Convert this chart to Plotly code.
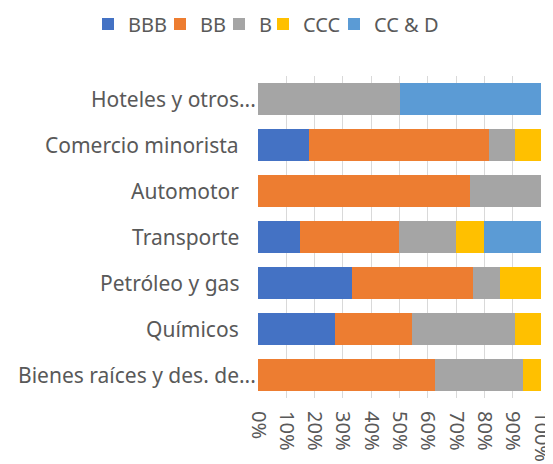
import plotly.graph_objects as go

categories = ["Hoteles y otros...", "Comercio minorista", "Automotor", "Transporte",
              "Petróleo y gas", "Químicos", "Bienes raíces y des. de..."]
series_names = ["BBB", "BB", "B", "CCC", "CC & D"]
bbb = [0, 18.0, 0, 14.8, 33.2, 27.2, 0]
bb = [0, 63.8, 74.8, 35.1, 42.9, 27.1, 62.5]
b = [50.0, 9.0, 25.2, 20.0, 9.5, 36.5, 31.1]
ccc = [0, 9.2, 0, 10.1, 14.4, 9.2, 6.4]
ccd = [50.0, 0, 0, 20.0, 0, 0, 0]
colors = ["#4472C4", "#ED7D31", "#A5A5A5", "#FFC000", "#5B9BD5"]
tick_vals = [0, 10, 20, 30, 40, 50, 60, 70, 80, 90, 100]
tick_text = ["0%", "10%", "20%", "30%", "40%", "50%", "60%", "70%", "80%", "90%", "100%"]

FONT = "Noto Sans"
GREY = "#595959"
LINE = "#D9D9D9"
W, H = 553, 464
# the page body adds an 8px offset; layout numbers below are in figure pixels
legend_left_px = [80, 152, 211, 255, 326]

fig = go.Figure()
legend_layout = {}
for i, (name, vals, col) in enumerate(zip(series_names, [bbb, bb, b, ccc, ccd], colors)):
    lg = "legend" if i == 0 else f"legend{i + 1}"
    fig.add_trace(go.Bar(y=categories, x=vals, name=name, orientation="h",
                         legend=lg, showlegend=True,
                         marker=dict(color=col, line=dict(width=0))))
    legend_layout[lg] = dict(orientation="h", xref="container", yref="container",
                             x=legend_left_px[i] / W, xanchor="left",
                             y=1 - 16 / H, yanchor="middle",
                             font=dict(family=FONT, size=20, color=GREY),
                             bgcolor="rgba(0,0,0,0)", itemwidth=30)

for cat in categories:
    long = cat.endswith("...")
    fig.add_annotation(x=0, xref="paper", y=cat, yref="y", text=cat, showarrow=False,
                       xanchor="right", yanchor="middle", xshift=0 if long else -17,
                       font=dict(family=FONT, size=21, color=GREY))

fig.update_layout(
    barmode="stack", bargap=0.31,
    width=W, height=H, showlegend=True,
    margin=dict(l=250, r=20, t=68, b=74, autoexpand=False),
    paper_bgcolor="white", plot_bgcolor="white",
    font=dict(family=FONT, color=GREY),
    xaxis=dict(range=[0, 100], tickvals=tick_vals, ticktext=tick_text, tickangle=90,
               showgrid=True, gridcolor=LINE, gridwidth=1,
               ticks="", showline=False, zeroline=False,
               ticklabelstandoff=12,
               ticklabeloverflow="allow", automargin=False,
               tickfont=dict(family=FONT, size=20, color=GREY)),
    xaxis2=dict(range=[0, 100], tickvals=tick_vals, overlaying="x", side="top",
                anchor="y", showticklabels=False, ticks="outside", ticklen=6,
                tickcolor=LINE, showline=True, linecolor=LINE, showgrid=False,
                zeroline=False, automargin=False),
    yaxis=dict(autorange="reversed", showticklabels=False, showline=False,
               showgrid=False, zeroline=False, automargin=False),
    **legend_layout,
)

fig.write_html("out.html")
